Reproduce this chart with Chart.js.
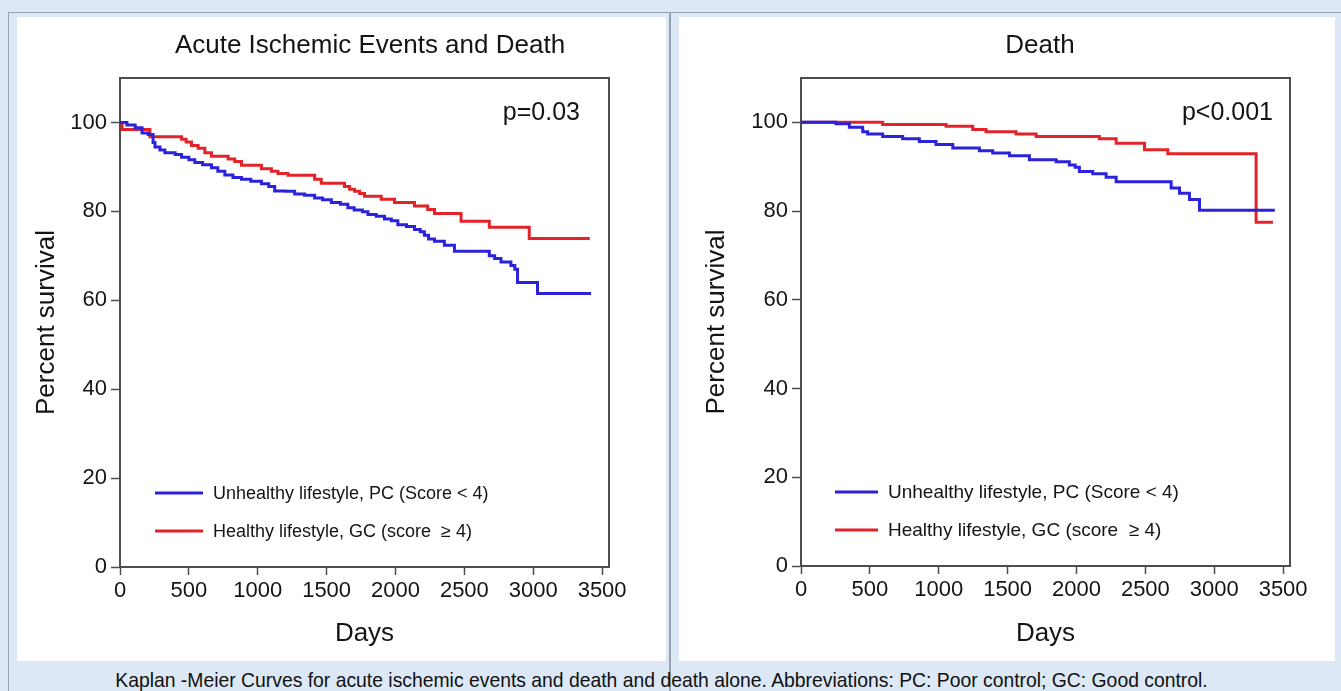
<!DOCTYPE html>
<html>
<head>
<meta charset="utf-8">
<script src="https://cdn.jsdelivr.net/npm/chart.js@4.4.1/dist/chart.umd.min.js"></script>
<style>
html,body{margin:0;padding:0;}
body{width:1341px;height:691px;background:#dce8f5;position:relative;overflow:hidden;font-family:"Liberation Sans",Arial,sans-serif;}
.line{position:absolute;background:#98a2ad;}
.panel{position:absolute;background:#ffffff;}
#p1{left:17px;top:17px;width:649px;height:644px;}
#p2{left:679px;top:17px;width:656px;height:644px;}
canvas{display:block;}
#caption{position:absolute;left:0;width:1323px;top:670px;text-align:center;color:#111;white-space:nowrap;font-size:17px;line-height:20px;}
</style>
</head>
<body>
<div class="line" style="left:8px;top:12px;width:1333px;height:1px;"></div>
<div class="line" style="left:8px;top:12px;width:1px;height:679px;"></div>
<div class="line" style="left:669px;top:12px;width:2px;height:679px;"></div>
<div class="panel" id="p1"><canvas id="c1" width="649" height="644"></canvas></div>
<div class="panel" id="p2"><canvas id="c2" width="656" height="644"></canvas></div>
<div id="caption"><span id="capText">Kaplan -Meier Curves for acute ischemic events and death and death alone. Abbreviations: PC: Poor control; GC: Good control.</span></div>
<script>
// ---------- data ----------
const xTickValues = [0, 500, 1000, 1500, 2000, 2500, 3000, 3500];
const yTickValues = [0, 20, 40, 60, 80, 100];

const seriesLabels = ["Unhealthy lifestyle, PC (Score < 4)", "Healthy lifestyle, GC (score  \u2265 4)"];
const chartTitles = ["Acute Ischemic Events and Death", "Death"];
const pValues = ["p=0.03", "p<0.001"];

// Acute ischemic events and death
const aieUnhealthyDays = [0,50,110,160,205,240,254,290,326,400,447,500,543,600,664,710,761,820,882,950,1027,1080,1123,1200,1268,1340,1413,1470,1534,1600,1654,1700,1760,1800,1860,1920,1970,2017,2080,2138,2180,2210,2240,2283,2355,2428,2681,2720,2766,2838,2866,2886,3031,3420];
const aieUnhealthySurv = [100,99.4,98.8,97.6,97.3,95.5,94.5,93.8,93.2,92.8,92.2,91.6,91.0,90.5,89.8,89.0,88.2,87.6,87.2,86.8,86.2,85.6,84.6,84.5,83.9,83.6,83.0,82.6,82.0,81.6,80.8,80.3,79.9,79.3,78.9,78.3,77.9,77.0,76.6,75.9,75.4,74.6,73.8,73.3,72.4,71.0,70.0,69.4,68.6,67.8,67.0,64.0,61.5,61.5];
const aieHealthyDays = [0,15,217,447,480,519,567,616,664,785,833,882,1027,1099,1147,1220,1413,1461,1630,1667,1703,1740,1775,1896,1993,2138,2234,2283,2476,2681,2971,3410];
const aieHealthySurv = [100,98.4,96.8,96.2,95.6,94.8,94.2,93.2,92.4,91.8,91.2,90.4,89.6,89.0,88.5,88.1,87.2,86.3,85.6,85.0,84.5,84.0,83.4,82.7,82.0,81.2,80.4,79.5,77.8,76.4,73.9,73.9];

// Death alone
const deathUnhealthyDays = [0,254,351,448,484,593,738,859,980,1102,1295,1392,1513,1658,1852,1948,1990,2021,2118,2215,2288,2687,2748,2820,2893,3440];
const deathUnhealthySurv = [100,99.7,98.9,97.9,97.4,96.8,96.3,95.7,95.0,94.2,93.6,93.1,92.5,91.6,91.1,90.4,89.9,88.9,88.4,87.6,86.6,85.2,84.0,82.6,80.2,80.2];
const deathHealthyDays = [0,593,1053,1247,1343,1561,1707,2166,2288,2494,2663,3304,3426];
const deathHealthySurv = [100,99.5,99.1,98.4,97.9,97.4,96.8,96.3,95.3,93.8,92.9,77.5,77.5];

// ---------- style ----------
const FONT = '"Liberation Sans", Arial, sans-serif';
const BLUE = '#2b22dc';
const RED = '#e2232a';
const AXIS = '#4d4d4d';
const TEXT = '#141414';

const decorPlugin = {
  id: 'decor',
  afterDraw(chart) {
    const o = chart.options.plugins.decor;
    const ctx = chart.ctx;
    const a = chart.chartArea;
    ctx.save();
    ctx.strokeStyle = AXIS;
    ctx.lineWidth = 2;
    ctx.beginPath();
    ctx.moveTo(a.left, a.top);
    ctx.lineTo(a.right, a.top);
    ctx.lineTo(a.right, a.bottom);
    ctx.stroke();
    ctx.fillStyle = TEXT;
    ctx.textBaseline = 'middle';
    ctx.textAlign = 'center';
    ctx.font = '26px ' + FONT;
    ctx.fillText(o.title, o.titleX, o.titleY);
    ctx.textAlign = 'right';
    ctx.font = '25px ' + FONT;
    ctx.fillText(o.p, o.pX, o.pY);
    ctx.textAlign = 'left';
    ctx.font = o.legendFont + 'px ' + FONT;
    chart.data.datasets.forEach((ds, i) => {
      const y = o.legY[i];
      ctx.strokeStyle = ds.borderColor;
      ctx.lineWidth = 3;
      ctx.beginPath();
      ctx.moveTo(o.legX0, y);
      ctx.lineTo(o.legX1, y);
      ctx.stroke();
      ctx.fillStyle = TEXT;
      ctx.fillText(ds.label, o.legTextX, y + 1);
    });
    ctx.restore();
  }
};

function kmChart(id, series, plot, decor) {
  const el = document.getElementById(id);
  const W = el.width, H = el.height;
  const datasets = series.map(s => ({
    label: s.label,
    data: s.days.map((d, i) => ({x: d, y: s.surv[i]})),
    borderColor: s.color,
    backgroundColor: s.color,
    borderWidth: 3,
    pointRadius: 0,
    stepped: 'before',
    fill: false
  }));
  return new Chart(el, {
    type: 'line',
    data: {datasets},
    options: {
      responsive: false,
      animation: false,
      devicePixelRatio: 1,
      layout: {padding: {top: plot.top, right: W - plot.right, left: 0, bottom: 0}},
      plugins: {legend: {display: false}, tooltip: {enabled: false}, title: {display: false}, decor: decor},
      scales: {
        x: {
          type: 'linear', min: 0, max: 3550,
          afterBuildTicks: s => { s.ticks = xTickValues.map(v => ({value: v})); },
          afterFit: s => { s.height = H - plot.bottom; },
          ticks: {font: {size: 22, family: FONT}, color: TEXT, padding: 3, maxRotation: 0, autoSkip: false,
                  callback: v => String(v)},
          grid: {drawOnChartArea: false, drawTicks: true, tickLength: 8, tickColor: AXIS, tickWidth: 1.5},
          border: {display: true, color: AXIS, width: 2},
          title: {display: true, text: 'Days', font: {size: 26, family: FONT}, color: TEXT, padding: {top: 0, bottom: 12}}
        },
        y: {
          type: 'linear', min: 0, max: 110,
          afterBuildTicks: s => { s.ticks = yTickValues.map(v => ({value: v})); },
          afterFit: s => { s.width = plot.left; },
          ticks: {font: {size: 22, family: FONT}, color: TEXT, padding: 4, callback: v => String(v)},
          grid: {drawOnChartArea: false, drawTicks: true, tickLength: 9, tickColor: AXIS, tickWidth: 1.5},
          border: {display: true, color: AXIS, width: 2},
          title: {display: true, text: 'Percent survival', font: {size: 26, family: FONT}, color: TEXT, padding: {top: plot.yTitlePad, bottom: 0}}
        }
      }
    },
    plugins: [decorPlugin]
  });
}

kmChart('c1', [
  {label: seriesLabels[0], days: aieUnhealthyDays, surv: aieUnhealthySurv, color: BLUE},
  {label: seriesLabels[1], days: aieHealthyDays, surv: aieHealthySurv, color: RED}
], {left: 103, right: 592, top: 61, bottom: 550, yTitlePad: 14},
{title: chartTitles[0], titleX: 353, titleY: 29, p: pValues[0], pX: 563, pY: 96,
 legX0: 138, legX1: 186, legTextX: 196, legY: [476, 514], legendFont: 18});

kmChart('c2', [
  {label: seriesLabels[0], days: deathUnhealthyDays, surv: deathUnhealthySurv, color: BLUE},
  {label: seriesLabels[1], days: deathHealthyDays, surv: deathHealthySurv, color: RED}
], {left: 122, right: 611, top: 61, bottom: 549, yTitlePad: 22},
{title: chartTitles[1], titleX: 361, titleY: 29, p: pValues[1], pX: 594, pY: 96,
 legX0: 156, legX1: 199, legTextX: 209, legY: [475, 513], legendFont: 19});

// fit caption width to reference span
(function(){
  const sp = document.getElementById('capText');
  const w = sp.getBoundingClientRect().width;
  const target = 1093;
  document.getElementById('caption').style.fontSize = (17 * target / w).toFixed(2) + 'px';
})();
</script>
</body>
</html>
